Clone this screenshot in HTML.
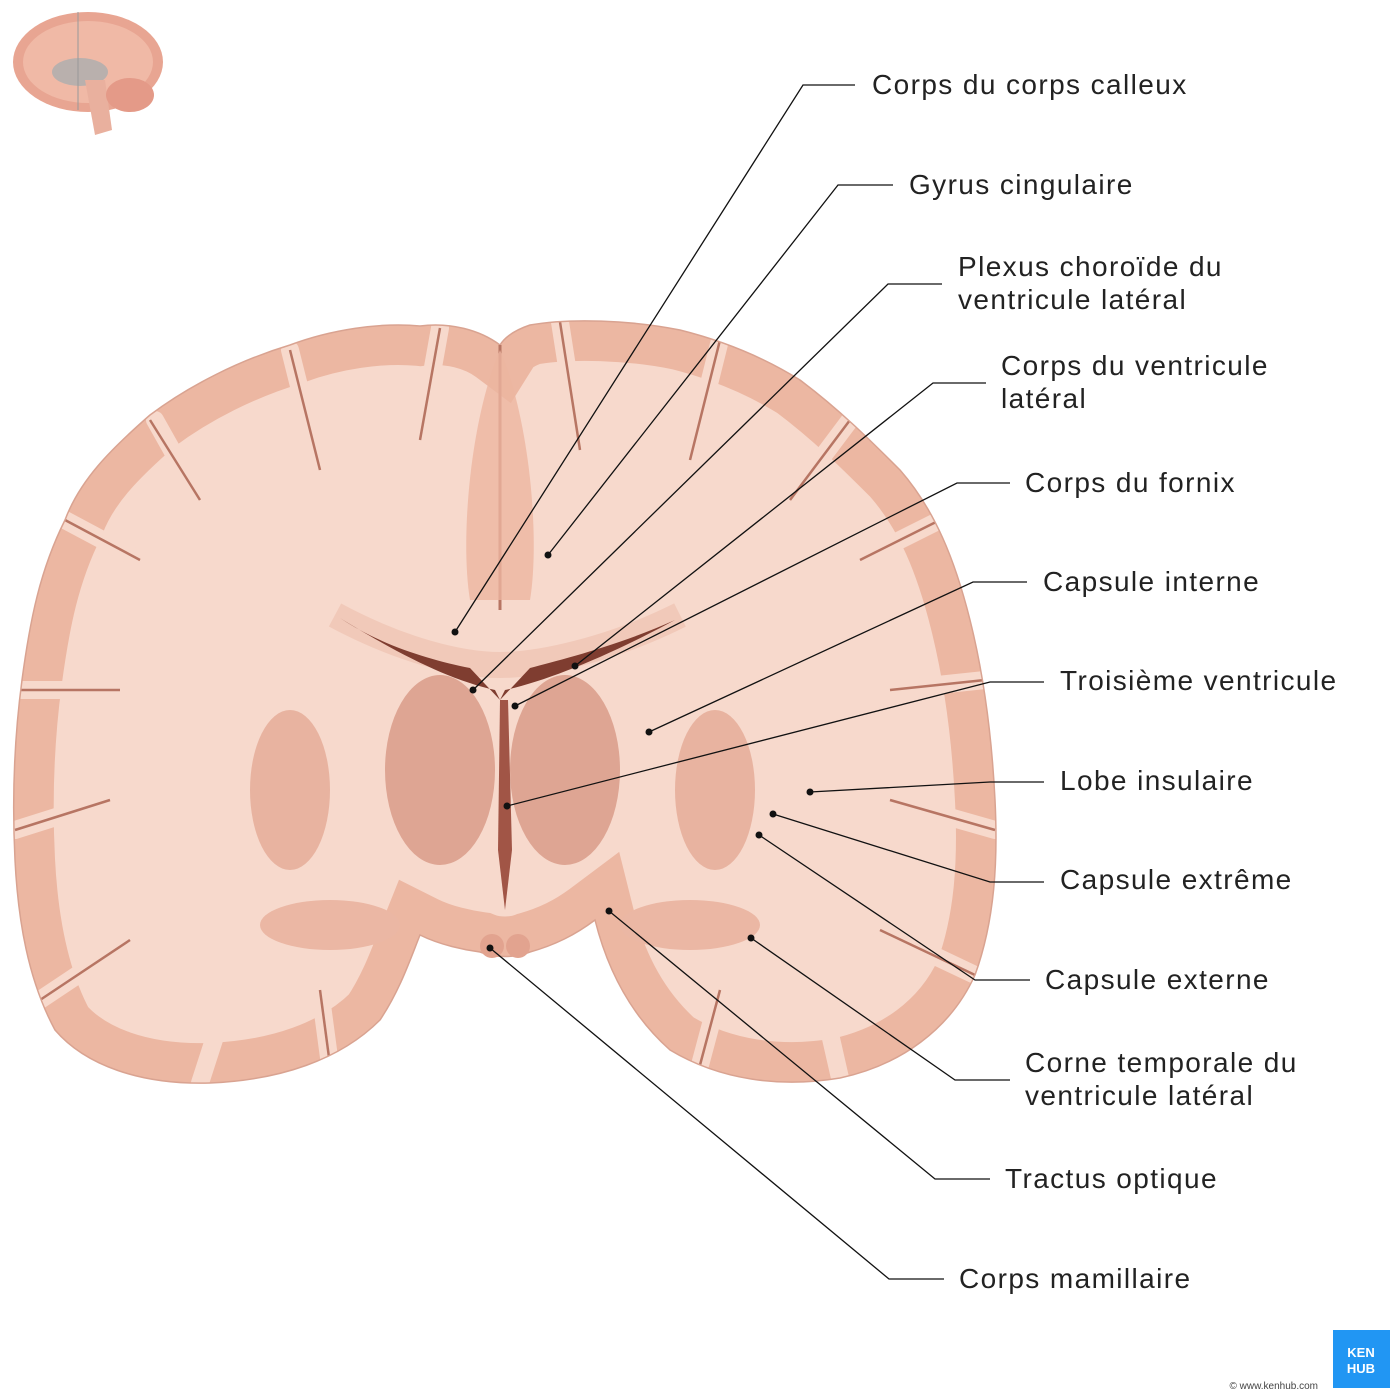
<!DOCTYPE html>
<html><head><meta charset="utf-8"><style>
html,body{margin:0;padding:0;background:#fff;}
#w{position:relative;width:1400px;height:1400px;overflow:hidden;background:#fff;font-family:"Liberation Sans",sans-serif;}
.t{position:absolute;font-size:28px;color:#222;line-height:33px;letter-spacing:1.4px;}
</style></head><body><div id="w">
<svg width="1400" height="1400" style="position:absolute;left:0;top:0">
<defs>
<path id="br" d="M500,345 C480,330 450,322 420,326 C380,322 330,330 290,345 C240,360 190,385 150,415 C110,450 80,480 65,520 C40,570 30,620 22,680 C14,740 12,800 15,860 C18,920 28,980 55,1030 C85,1065 140,1085 210,1083 C280,1080 340,1060 380,1020 C400,990 410,960 420,935 C440,945 465,950 480,952 C495,958 515,958 530,952 C555,945 575,935 595,920 C605,960 625,1010 670,1050 C720,1080 780,1088 840,1078 C900,1065 950,1030 975,975 C995,920 998,860 995,800 C992,740 985,680 970,620 C955,560 935,510 900,470 C870,440 840,410 800,380 C760,355 720,340 680,330 C630,320 570,318 530,325 C515,330 505,337 500,345 Z"/>
<clipPath id="cp"><use href="#br"/></clipPath>
</defs>
<ellipse cx="88" cy="62" rx="75" ry="50" fill="#e8a592"/>
<ellipse cx="88" cy="62" rx="65" ry="41" fill="#f0b9a6"/>
<ellipse cx="80" cy="72" rx="28" ry="14" fill="#b9b0ad"/>
<path d="M85,80 L95,135 L112,130 L105,80Z" fill="#e9b09e"/>
<ellipse cx="130" cy="95" rx="24" ry="17" fill="#e49a88"/>
<line x1="78" y1="12" x2="78" y2="110" stroke="#999" stroke-width="1"/>
<use href="#br" fill="#f7d9cc"/>
<g clip-path="url(#cp)">
<use href="#br" fill="none" stroke="#ecb7a2" stroke-width="80"/>
<g stroke="#f7d9cc" stroke-width="18" fill="none" stroke-linecap="round">
<path d="M155,420 L200,500"/><path d="M290,350 L320,470"/><path d="M440,328 L420,440"/><path d="M65,520 L140,560"/><path d="M22,690 L120,690"/><path d="M15,830 L110,800"/><path d="M40,1000 L130,940"/><path d="M200,1083 L230,990"/><path d="M330,1065 L320,990"/>
<path d="M560,322 L580,450"/><path d="M720,340 L690,460"/><path d="M850,420 L790,500"/><path d="M940,520 L860,560"/><path d="M985,680 L890,690"/><path d="M995,830 L890,800"/><path d="M975,975 L880,930"/><path d="M840,1078 L820,990"/><path d="M700,1065 L720,990"/>
</g>
<g stroke="#b77563" stroke-width="2.5" fill="none">
<path d="M150,420 L200,500"/><path d="M290,350 L320,470"/><path d="M440,328 L420,440"/><path d="M65,520 L140,560"/><path d="M20,690 L120,690"/><path d="M15,830 L110,800"/><path d="M40,1000 L130,940"/><path d="M330,1065 L320,990"/>
<path d="M560,322 L580,450"/><path d="M720,340 L690,460"/><path d="M850,420 L790,500"/><path d="M940,520 L860,560"/><path d="M985,680 L890,690"/><path d="M995,830 L890,800"/><path d="M975,975 L880,930"/><path d="M700,1065 L720,990"/>
</g>
</g>
<use href="#br" fill="none" stroke="#d9a391" stroke-width="1.5"/>
<path d="M500,345 L500,610" stroke="#b77563" stroke-width="3"/>
<path d="M500,350 C470,420 460,540 470,600 L530,600 C540,540 530,420 500,350Z" fill="#ecb5a0" opacity="0.8"/>
<path d="M335,615 C400,650 460,665 500,665 C540,665 610,650 680,615" stroke="#f1c9b9" stroke-width="26" fill="none"/>
<path d="M340,618 C400,655 450,680 495,690 L500,700 L505,690 C550,680 610,655 675,620 C620,645 560,660 530,668 L500,700 L470,668 C430,660 380,645 340,618Z" fill="#7f3d30"/>
<ellipse cx="440" cy="770" rx="55" ry="95" fill="#dea593"/>
<ellipse cx="565" cy="770" rx="55" ry="95" fill="#dea593"/>
<ellipse cx="290" cy="790" rx="40" ry="80" fill="#e8b3a0"/>
<ellipse cx="715" cy="790" rx="40" ry="80" fill="#e8b3a0"/>
<path d="M500,700 L498,850 L505,910 L512,850 L508,700Z" fill="#a15546"/>
<ellipse cx="330" cy="925" rx="70" ry="25" fill="#ebb7a4"/>
<ellipse cx="690" cy="925" rx="70" ry="25" fill="#ebb7a4"/>
<circle cx="492" cy="946" r="12" fill="#e2a38f"/><circle cx="518" cy="946" r="12" fill="#e2a38f"/>
<g stroke="#111" stroke-width="1.3" fill="none">
<polyline points="855,85 803,85 455,632"/>
<polyline points="893,185 838,185 548,555"/>
<polyline points="942,284 888,284 473,690"/>
<polyline points="986,383 933,383 575,666"/>
<polyline points="1010,483 957,483 515,706"/>
<polyline points="1027,582 973,582 649,732"/>
<polyline points="1044,682 990,682 507,806"/>
<polyline points="1044,782 990,782 810,792"/>
<polyline points="1044,882 990,882 773,814"/>
<polyline points="1030,980 975,980 759,835"/>
<polyline points="1010,1080 955,1080 751,938"/>
<polyline points="990,1179 935,1179 609,911"/>
<polyline points="944,1279 889,1279 490,948"/>
</g>
<g fill="#111">
<circle cx="455" cy="632" r="3.5"/><circle cx="548" cy="555" r="3.5"/><circle cx="473" cy="690" r="3.5"/><circle cx="575" cy="666" r="3.5"/><circle cx="515" cy="706" r="3.5"/><circle cx="649" cy="732" r="3.5"/><circle cx="507" cy="806" r="3.5"/><circle cx="810" cy="792" r="3.5"/><circle cx="773" cy="814" r="3.5"/><circle cx="759" cy="835" r="3.5"/><circle cx="751" cy="938" r="3.5"/><circle cx="609" cy="911" r="3.5"/><circle cx="490" cy="948" r="3.5"/>
</g>
<rect x="1333" y="1330" width="57" height="58" fill="#2196f3"/>
<text x="1361" y="1357" font-family="Liberation Sans" font-size="13" font-weight="bold" fill="#fff" text-anchor="middle">KEN</text>
<text x="1361" y="1373" font-family="Liberation Sans" font-size="13" font-weight="bold" fill="#fff" text-anchor="middle">HUB</text>
<text x="1318" y="1389" font-family="Liberation Sans" font-size="10" fill="#444" text-anchor="end">© www.kenhub.com</text>
</svg>
<div class="t" style="left:872px;top:68px">Corps du corps calleux</div>
<div class="t" style="left:909px;top:168px">Gyrus cingulaire</div>
<div class="t" style="left:958px;top:250px">Plexus choroïde du<br>ventricule latéral</div>
<div class="t" style="left:1001px;top:349px">Corps du ventricule<br>latéral</div>
<div class="t" style="left:1025px;top:466px">Corps du fornix</div>
<div class="t" style="left:1043px;top:565px">Capsule interne</div>
<div class="t" style="left:1060px;top:664px">Troisième ventricule</div>
<div class="t" style="left:1060px;top:764px">Lobe insulaire</div>
<div class="t" style="left:1060px;top:863px">Capsule extrême</div>
<div class="t" style="left:1045px;top:963px">Capsule externe</div>
<div class="t" style="left:1025px;top:1046px">Corne temporale du<br>ventricule latéral</div>
<div class="t" style="left:1005px;top:1162px">Tractus optique</div>
<div class="t" style="left:959px;top:1262px">Corps mamillaire</div>
</div></body></html>
